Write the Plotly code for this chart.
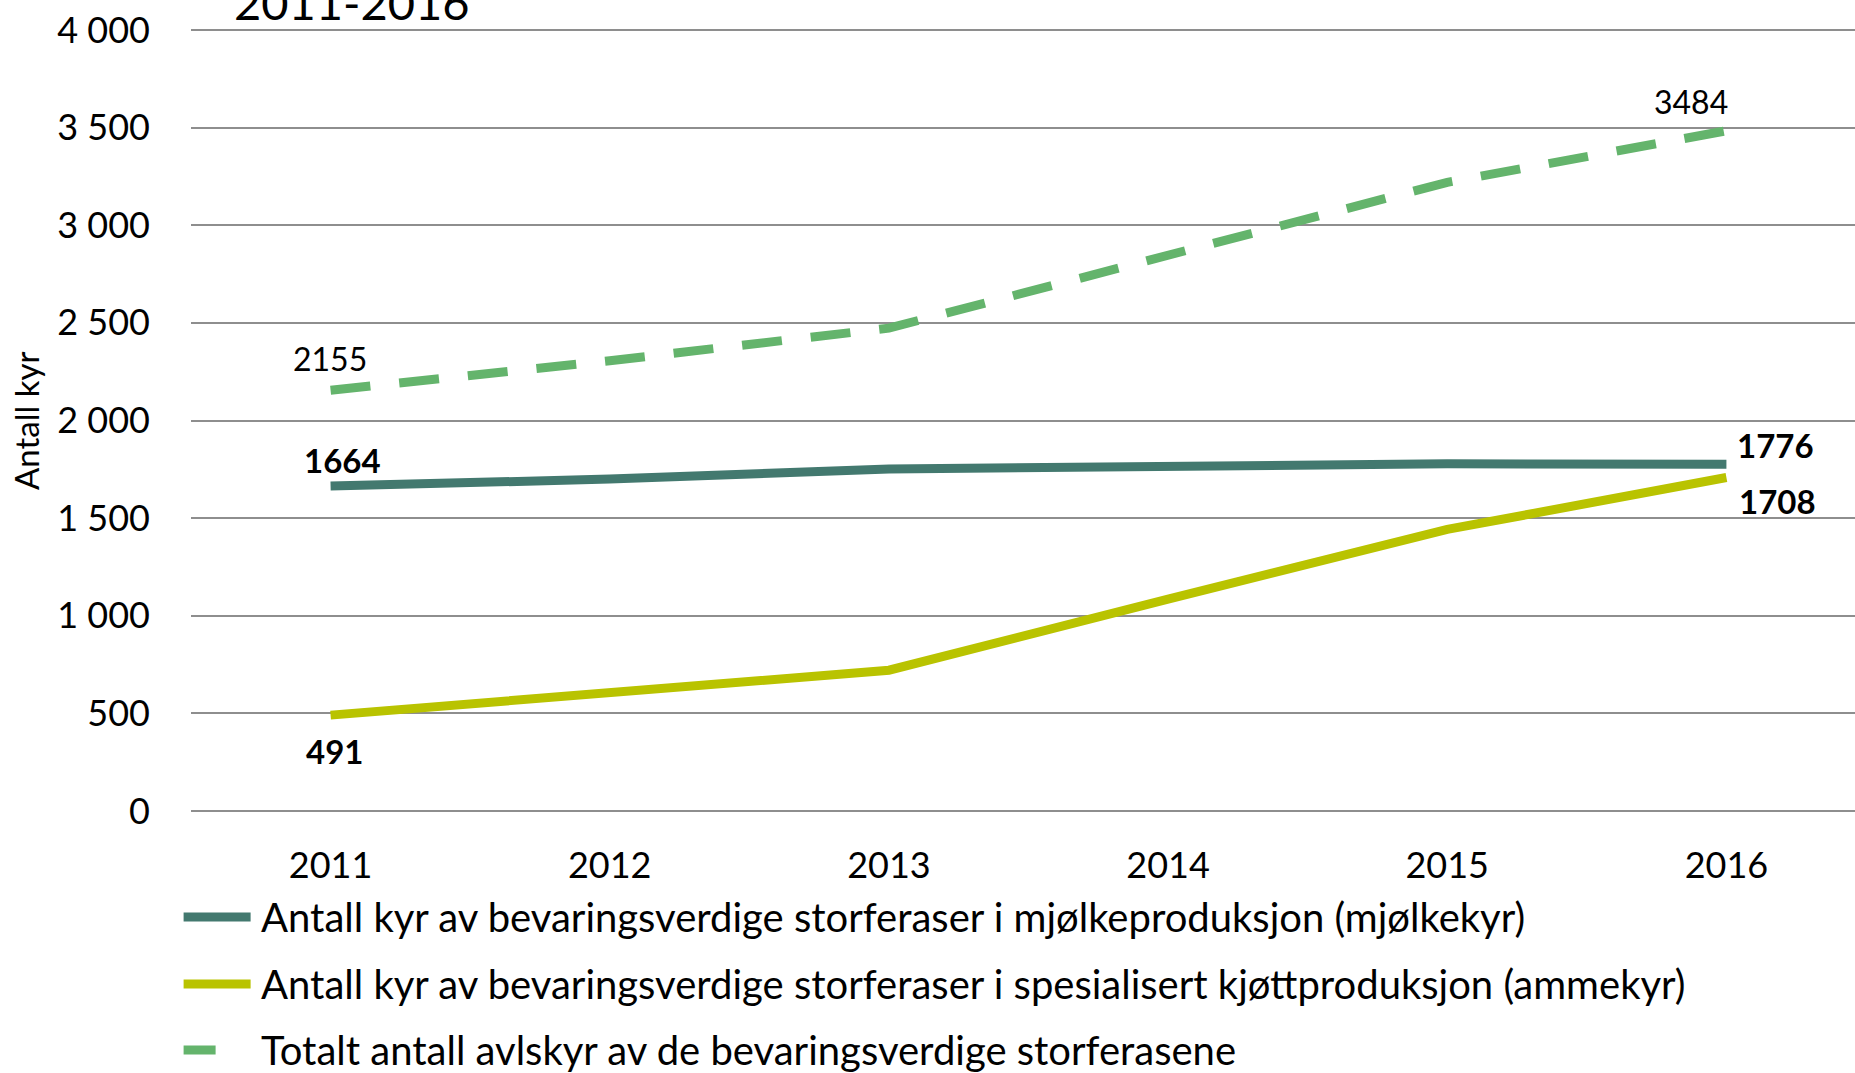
import plotly.graph_objects as go

years = ["2011", "2012", "2013", "2014", "2015", "2016"]
mjolk = [1664, 1700, 1752, 1765, 1778, 1776]
amme = [491, 606, 721, 1085, 1442, 1708]
total = [2155, 2306, 2473, 2850, 3220, 3484]
y_ticks = [0, 500, 1000, 1500, 2000, 2500, 3000, 3500, 4000]

names = [
    "Antall kyr av bevaringsverdige storferaser i mjølkeproduksjon (mjølkekyr)",
    "Antall kyr av bevaringsverdige storferaser i spesialisert kjøttproduksjon (ammekyr)",
    "Totalt antall avlskyr av de bevaringsverdige storferasene",
]
c_mjolk = "#43796F"
c_amme = "#B9C300"
c_total = "#64B46C"

W, H = 1855, 1073
L, R, T, B = 191.4, 1855, 30.2, 811
PAD = 3.0  # px of extra range so that 0 and 4000 gridlines are drawn
FONT = "Lato"

def px(x):
    return (x - L) / (R - L)

def py(y):
    return (B + PAD - y) / (B - T + 2 * PAD)

fig = go.Figure()
fig.add_trace(go.Scatter(x=years, y=total, mode="lines", name=names[2],
                         line=dict(color=c_total, width=9, dash="40px,29px")))
fig.add_trace(go.Scatter(x=years, y=amme, mode="lines", name=names[1],
                         line=dict(color=c_amme, width=9)))
fig.add_trace(go.Scatter(x=years, y=mjolk, mode="lines", name=names[0],
                         line=dict(color=c_mjolk, width=9)))

annotations = []

def lab(xi, yv, text, dx, dy, bold=False):
    annotations.append(dict(x=xi, y=yv, xref="x", yref="y",
                            text=f"<b>{text}</b>" if bold else text,
                            showarrow=False, xshift=dx, yshift=dy,
                            xanchor="center", yanchor="middle",
                            font=dict(family=FONT, size=33 if bold else 32, color="#000000")))

lab(0, total[0], str(total[0]), -1, 32)
lab(5, total[5], str(total[5]), -35, 29)
lab(0, mjolk[0], str(mjolk[0]), 12, 26, True)
lab(5, mjolk[5], str(mjolk[5]), 49, 19, True)
lab(5, amme[5], str(amme[5]), 51, -23, True)
lab(0, amme[0], str(amme[0]), 4, -36, True)

# axis title
annotations.append(dict(x=px(26), y=0.5, xref="paper", yref="paper", text="Antall kyr",
                        textangle=-90, showarrow=False, xanchor="center", yanchor="middle",
                        font=dict(family=FONT, size=33, color="#000000")))
# cropped chart title
annotations.append(dict(x=px(232), y=py(2), xref="paper", yref="paper", text="2011-2016",
                        showarrow=False, xanchor="left", yanchor="middle",
                        font=dict(family=FONT, size=47, color="#000000")))

# legend
shapes = []
rows = [917, 984, 1050]
cols = [c_mjolk, c_amme, c_total]
ends = [254, 254, 219]
for i in range(3):
    shapes.append(dict(type="line", xref="paper", yref="paper",
                       x0=px(184), x1=px(ends[i] - 3), y0=py(rows[i]), y1=py(rows[i]),
                       line=dict(color=cols[i], width=9)))
    annotations.append(dict(x=px(259), y=py(rows[i]), xref="paper", yref="paper",
                            text=names[i], showarrow=False, xanchor="left", yanchor="middle",
                            font=dict(family=FONT, size=40, color="#000000")))

unit = (B - T) / 4000.0
fig.update_layout(
    width=W, height=H,
    margin=dict(l=L, r=W - R, t=T - PAD, b=H - B - PAD, pad=0),
    paper_bgcolor="white", plot_bgcolor="white",
    showlegend=False,
    separators=", ",
    font=dict(family=FONT, size=36, color="#000000"),
    annotations=annotations,
    shapes=shapes,
    xaxis=dict(type="category", range=[-0.5, 5.5 - (1866 - 1855) / 279.2],
               showgrid=False, zeroline=False, showline=False, ticks="",
               ticklabelstandoff=27,
               tickfont=dict(family=FONT, size=36, color="#000000")),
    yaxis=dict(range=[-PAD / unit, 4000 + PAD / unit], tickvals=y_ticks, tickformat=",d",
               showgrid=True, gridcolor="#8E8E8E", gridwidth=2,
               zeroline=False, showline=False, ticks="",
               ticklabelstandoff=40,
               tickfont=dict(family=FONT, size=36, color="#000000")),
)

fig.write_html("out.html", config={"displayModeBar": False},
               post_script="document.body.style.margin='0';document.body.style.overflow='hidden';")
